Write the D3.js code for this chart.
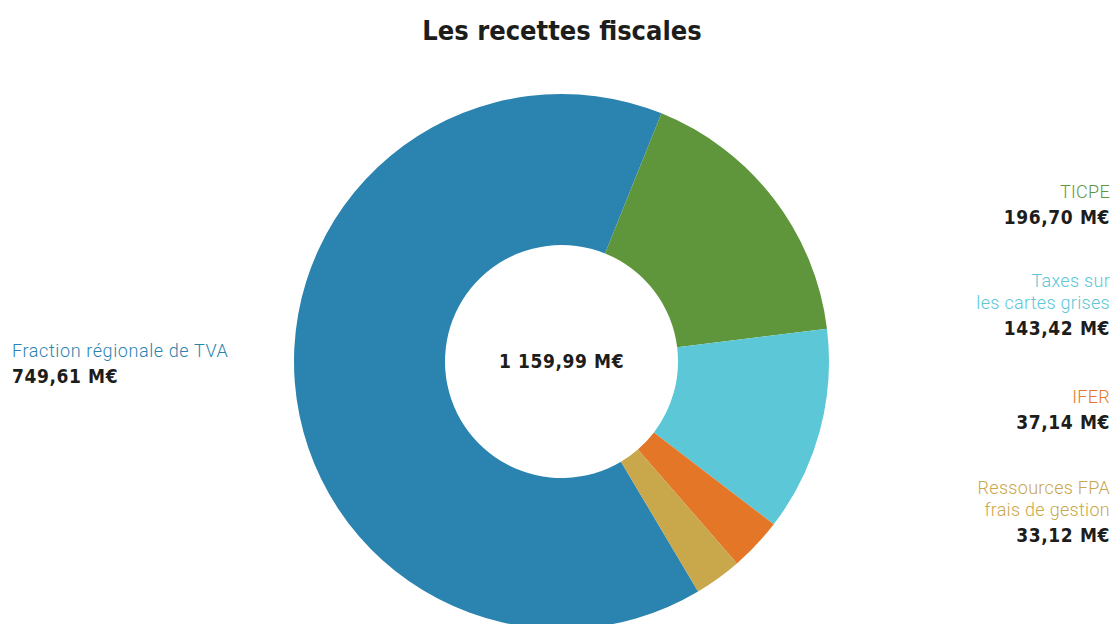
<!DOCTYPE html>
<html>
<head>
<meta charset="utf-8">
<script src="https://cdn.jsdelivr.net/npm/d3@7"></script>
<style>
  body { margin: 0; background: #fff; }
  svg { display: block; }
</style>
</head>
<body>
<div id="chart"></div>
<script>
// data
const categories = ["Fraction régionale de TVA", "TICPE", "Taxes sur les cartes grises", "IFER", "Ressources FPA frais de gestion"];
const labelLines = [["Fraction régionale de TVA"], ["TICPE"], ["Taxes sur", "les cartes grises"], ["IFER"], ["Ressources FPA", "frais de gestion"]];
const values = [749.61, 196.70, 143.42, 37.14, 33.12];
const valueLabels = ["749,61 M€", "196,70 M€", "143,42 M€", "37,14 M€", "33,12 M€"];
const totalLabel = "1 159,99 M€";
const colors = ["#2b83af", "#5f963b", "#5bc7d7", "#e47727", "#c9a74b"];

const width = 1115;
const height = 624;
const cx = 561.5;
const cy = 361.5;
const outerR = 267.5;
const innerR = 116.5;

const labelFont = "Roboto, 'Open Sans', sans-serif";
const boldFont = "'DejaVu Sans Condensed', 'DejaVu Sans', sans-serif";

const svg = d3.select("#chart")
  .append("svg")
  .attr("width", width)
  .attr("height", height);

svg.append("text")
  .attr("x", 562)
  .attr("y", 40)
  .attr("text-anchor", "middle")
  .attr("font-family", boldFont)
  .attr("font-weight", "bold")
  .attr("font-size", "27px")
  .attr("fill", "#1d1d1b")
  .text("Les recettes fiscales");

// start angle so the TVA slice ends up where it is in the picture
const start = 149.3 * Math.PI / 180;
const pie = d3.pie().sort(null).value(d => d)
  .startAngle(start).endAngle(start + 2 * Math.PI);
const arc = d3.arc().innerRadius(innerR).outerRadius(outerR);

const g = svg.append("g").attr("transform", `translate(${cx}, ${cy})`);

g.selectAll("path")
  .data(pie(values))
  .enter()
  .append("path")
  .attr("d", arc)
  .attr("fill", (d, i) => colors[i]);

g.append("text")
  .attr("y", 6)
  .attr("text-anchor", "middle")
  .attr("font-family", boldFont)
  .attr("font-weight", "bold")
  .attr("font-size", "19px")
  .attr("letter-spacing", "0.6px")
  .attr("fill", "#1d1d1b")
  .text(totalLabel);

// legend positions (first baseline of each block)
const labelPos = [
  { x: 12, y: 357, anchor: "start" },
  { x: 1110, y: 198, anchor: "end" },
  { x: 1110, y: 287, anchor: "end" },
  { x: 1110, y: 403, anchor: "end" },
  { x: 1110, y: 494, anchor: "end" }
];
const lineGap = 21.5;

labelLines.forEach((lines, i) => {
  const p = labelPos[i];
  const t = svg.append("g");
  lines.forEach((line, j) => {
    t.append("text")
      .attr("x", p.x)
      .attr("y", p.y + j * lineGap)
      .attr("text-anchor", p.anchor)
      .attr("font-family", labelFont)
      .attr("font-weight", 300)
      .attr("font-size", "18px")
      .attr("letter-spacing", i === 0 ? "0.6px" : "0.3px")
      .attr("fill", colors[i])
      .text(line);
  });
  t.append("text")
    .attr("x", p.x)
    .attr("y", p.y + (lines.length - 1) * lineGap + 26)
    .attr("text-anchor", p.anchor)
    .attr("font-family", boldFont)
    .attr("font-weight", "bold")
    .attr("font-size", "19px")
    .attr("letter-spacing", "0.6px")
    .attr("fill", "#1d1d1b")
    .text(valueLabels[i]);
});
</script>
</body>
</html>
